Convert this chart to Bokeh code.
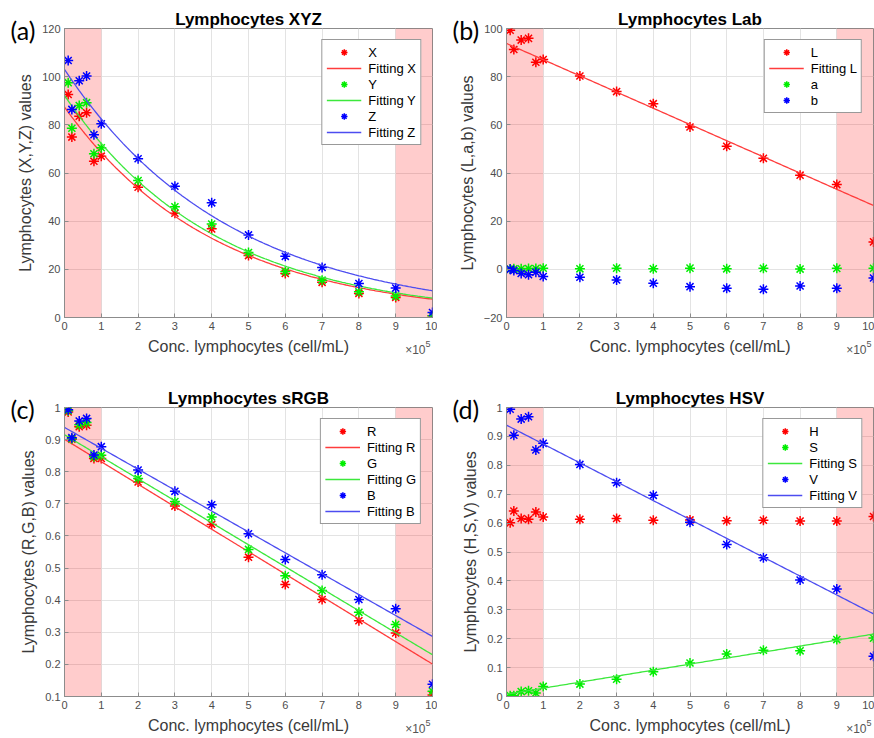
import numpy as np
from bokeh.plotting import figure
from bokeh.models import (Range1d, FixedTicker, Legend, LegendItem, BoxAnnotation,
                          Label, CustomJSTickFormatter, GridBox)
from bokeh.embed import file_html
from bokeh.resources import INLINE

# ---------------- data ----------------
conc = [0.1, 0.2, 0.4, 0.6, 0.8, 1, 2, 3, 4, 5, 6, 7, 8, 9, 10]   # x 10^5 cell/mL
x_ticks = [0, 1, 2, 3, 4, 5, 6, 7, 8, 9, 10]
shaded_ranges = [(0, 1), (9, 10)]

# (a) XYZ
xyz_X = [92.6, 74.9, 83.6, 85.0, 64.9, 67.0, 54.1, 43.3, 36.8, 25.7, 18.3, 14.6, 10.0, 8.3, 0.7]
xyz_Y = [97.5, 78.6, 88.0, 89.2, 68.0, 70.5, 56.9, 46.0, 38.8, 27.0, 19.1, 15.5, 10.7, 8.9, 0.7]
xyz_Z = [106.7, 86.4, 98.3, 100.3, 75.9, 80.4, 65.9, 54.5, 47.6, 34.3, 25.4, 20.8, 14.1, 12.2, 2.1]
fit_X = (87.4, 0.2442)    # a * exp(-b * x)
fit_Y = (92.2, 0.2440)
fit_Z = (103.0, 0.2228)
ticks_a = [0, 20, 40, 60, 80, 100, 120]

# (b) Lab
lab_L = [99.3, 91.3, 95.2, 95.9, 86.0, 87.1, 80.3, 73.8, 68.8, 59.1, 51.1, 46.1, 39.1, 35.2, 11.4]
lab_a = [0.1, 0.2, 0.2, 0.3, 0.3, 0.5, 0.2, 0.5, 0.2, 0.5, 0.2, 0.4, 0.1, 0.4, 0.4]
lab_b = [0.0, -0.5, -1.7, -2.2, -1.2, -3.0, -3.3, -4.4, -5.8, -7.2, -7.9, -8.3, -6.9, -7.9, -3.6]
fit_L = (93.8, -6.73)     # intercept, slope
ticks_b = [-20, 0, 20, 40, 60, 80, 100]

# (c) sRGB
rgb_R = [0.986, 0.901, 0.940, 0.945, 0.841, 0.841, 0.768, 0.693, 0.636, 0.534, 0.449, 0.402, 0.336, 0.298, 0.105]
rgb_G = [0.990, 0.903, 0.946, 0.953, 0.847, 0.851, 0.779, 0.707, 0.659, 0.558, 0.476, 0.430, 0.362, 0.324, 0.116]
rgb_B = [0.993, 0.906, 0.958, 0.966, 0.852, 0.878, 0.805, 0.739, 0.697, 0.607, 0.527, 0.479, 0.402, 0.373, 0.138]
fit_R = (0.901, -0.0700)
fit_G = (0.915, -0.0685)
fit_B = (0.938, -0.0651)
ticks_c = [0.1, 0.2, 0.3, 0.4, 0.5, 0.6, 0.7, 0.8, 0.9, 1.0]

# (d) HSV
hsv_H = [0.601, 0.642, 0.616, 0.613, 0.638, 0.621, 0.613, 0.616, 0.610, 0.611, 0.608, 0.610, 0.607, 0.607, 0.623]
hsv_S = [0.003, 0.003, 0.017, 0.020, 0.012, 0.035, 0.043, 0.060, 0.086, 0.116, 0.147, 0.160, 0.158, 0.197, 0.202]
hsv_V = [0.994, 0.904, 0.960, 0.968, 0.853, 0.876, 0.803, 0.740, 0.696, 0.603, 0.526, 0.480, 0.403, 0.372, 0.139]
fit_S = (0.008, 0.0208)
fit_V = (0.939, -0.0653)
ticks_d = [0, 0.1, 0.2, 0.3, 0.4, 0.5, 0.6, 0.7, 0.8, 0.9, 1.0]

titles = ["Lymphocytes XYZ", "Lymphocytes Lab", "Lymphocytes sRGB", "Lymphocytes HSV"]
tags = ["(a)", "(b)", "(c)", "(d)"]

# ---------------- style ----------------
FONT = "Liberation Sans"
RED, GREEN, BLUE = "#ff0000", "#00ee00", "#0000ff"
LRED, LGREEN, LBLUE = "#ff3c3c", "#3ce83c", "#4d4df0"
xfit = np.linspace(0, 10, 201)
PW, PH = 437, 369


def exp_curve(params):
    a, b = params
    return a * np.exp(-b * xfit)


def lin_curve(params):
    c, m = params
    return c + m * xfit


def make_panel(bl, br, bt, bb, yr, yticks, ylabel, frac_fmt):
    p = figure(width=PW, height=PH, output_backend="svg", toolbar_location=None,
               x_range=Range1d(0, 10), y_range=Range1d(*yr),
               min_border_left=bl, min_border_right=br, min_border_top=bt, min_border_bottom=bb)
    p.background_fill_color = "white"
    p.border_fill_color = "white"
    p.outline_line_color = "#8c8c8c"
    p.outline_line_width = 1
    for ax in (p.xaxis[0], p.yaxis[0]):
        ax.axis_line_color = "#8c8c8c"
        ax.major_tick_line_color = "#8c8c8c"
        ax.major_tick_in = 4
        ax.major_tick_out = 0
        ax.minor_tick_line_color = None
        ax.major_label_text_font = FONT
        ax.major_label_text_font_size = "11px"
        ax.major_label_text_color = "#4d4d4d"
        ax.axis_label_text_font = FONT
        ax.axis_label_text_font_size = "16px"
        ax.axis_label_text_font_style = "normal"
        ax.axis_label_text_color = "#3a3a3a"
        ax.major_label_standoff = 4
        ax.axis_label_standoff = 5
    p.xaxis[0].ticker = FixedTicker(ticks=x_ticks)
    p.yaxis[0].ticker = FixedTicker(ticks=yticks)
    if frac_fmt:
        p.yaxis[0].formatter = CustomJSTickFormatter(code="return String(Math.round(tick*10)/10);")
    p.xaxis[0].axis_label = "Conc. lymphocytes (cell/mL)"
    p.yaxis[0].axis_label = ylabel
    p.xgrid.ticker = FixedTicker(ticks=x_ticks)
    p.ygrid.ticker = FixedTicker(ticks=yticks)
    p.grid.grid_line_color = "#e3e3e3"
    p.grid.grid_line_width = 1
    for lo, hi in shaded_ranges:
        p.add_layout(BoxAnnotation(left=lo, right=hi, fill_color="#ff0000", fill_alpha=0.2,
                                   line_color=None, level="underlay"))
    return p


def pts(p, y, color):
    return p.scatter(conc, y, marker="asterisk", size=10, line_color=color, line_width=1.5)


def fitline(p, y, color):
    return p.line(xfit, y, line_color=color, line_width=1.3)


def add_legend(p, items):
    lg = Legend(items=[LegendItem(label=l, renderers=[r]) for l, r in items],
                location="top_right", margin=11, padding=4, spacing=0,
                label_height=16, glyph_height=16, glyph_width=35, label_standoff=7,
                label_text_font=FONT, label_text_font_size="13px", label_text_color="black",
                border_line_color="#333333", border_line_width=1,
                background_fill_color="white", background_fill_alpha=1)
    p.add_layout(lg)


# frame geometry of each panel (borders in px): left, right, top, bottom
geo = [(64, 5, 28, 52), (69, 1, 28, 52), (64, 5, 38, 42), (69, 1, 38, 42)]

# (a)
pa = make_panel(*geo[0], (0, 120), ticks_a, "Lymphocytes (X,Y,Z) values", False)
ra1 = pts(pa, xyz_X, RED); ra2 = fitline(pa, exp_curve(fit_X), LRED)
ra3 = pts(pa, xyz_Y, GREEN); ra4 = fitline(pa, exp_curve(fit_Y), LGREEN)
ra5 = pts(pa, xyz_Z, BLUE); ra6 = fitline(pa, exp_curve(fit_Z), LBLUE)
add_legend(pa, [("X", ra1), ("Fitting X", ra2), ("Y", ra3), ("Fitting Y", ra4),
                ("Z", ra5), ("Fitting Z", ra6)])

# (b)
pb = make_panel(*geo[1], (-20, 100), ticks_b, "Lymphocytes (L,a,b) values", False)
rb1 = pts(pb, lab_L, RED); rb2 = fitline(pb, lin_curve(fit_L), LRED)
rb3 = pts(pb, lab_a, GREEN)
rb4 = pts(pb, lab_b, BLUE)
add_legend(pb, [("L", rb1), ("Fitting L", rb2), ("a", rb3), ("b", rb4)])

# (c)
pc = make_panel(*geo[2], (0.1, 1.0), ticks_c, "Lymphocytes (R,G,B) values", True)
rc1 = pts(pc, rgb_R, RED); rc2 = fitline(pc, lin_curve(fit_R), LRED)
rc3 = pts(pc, rgb_G, GREEN); rc4 = fitline(pc, lin_curve(fit_G), LGREEN)
rc5 = pts(pc, rgb_B, BLUE); rc6 = fitline(pc, lin_curve(fit_B), LBLUE)
add_legend(pc, [("R", rc1), ("Fitting R", rc2), ("G", rc3), ("Fitting G", rc4),
                ("B", rc5), ("Fitting B", rc6)])

# (d)
pd_ = make_panel(*geo[3], (0, 1.0), ticks_d, "Lymphocytes (H,S,V) values", True)
rd1 = pts(pd_, hsv_H, RED)
rd2 = pts(pd_, hsv_S, GREEN); rd3 = fitline(pd_, lin_curve(fit_S), LGREEN)
rd4 = pts(pd_, hsv_V, BLUE); rd5 = fitline(pd_, lin_curve(fit_V), LBLUE)
add_legend(pd_, [("H", rd1), ("S", rd2), ("Fitting S", rd3), ("V", rd4), ("Fitting V", rd5)])

grid = GridBox(children=[(pa, 0, 0), (pb, 0, 1), (pc, 1, 0), (pd_, 1, 1)], spacing=0)

# ---------- transparent overlay (separate root) for titles, panel tags and x10^5 ----------
ov = figure(width=2 * PW, height=2 * PH, output_backend="svg", toolbar_location=None,
            x_range=Range1d(0, 2 * PW), y_range=Range1d(2 * PH, 0),
            x_axis_type=None, y_axis_type=None, min_border=0,
            styles={"position": "absolute", "left": "0px", "top": "0px",
                    "pointer-events": "none", "z-index": "5"})
ov.grid.visible = False
ov.outline_line_color = None
ov.background_fill_color = None
ov.border_fill_color = None

for i in range(4):
    ox = (i % 2) * PW
    oy = (i // 2) * PH
    bl, br, bt, bb = geo[i]
    fl, fr = ox + bl, ox + PW - br
    ft, fb = oy + bt, oy + PH - bb
    ov.add_layout(Label(x=(fl + fr) / 2, y=ft - 9, text=titles[i], text_align="center",
                        text_baseline="alphabetic", text_font=FONT, text_font_size="17px",
                        text_font_style="bold", text_color="black"))
    ov.add_layout(Label(x=fl - 54, y=ft + 1, text=tags[i], text_align="left",
                        text_baseline="alphabetic", text_font="Lato", text_font_size="25px",
                        text_color="black"))
    ov.add_layout(Label(x=fr - 7, y=fb + 32.5, text="\u00d710", text_align="right",
                        text_baseline="alphabetic", text_font=FONT, text_font_size="12px",
                        text_color="#555555"))
    ov.add_layout(Label(x=fr - 7, y=fb + 26.5, text="5", text_align="left",
                        text_baseline="alphabetic", text_font=FONT, text_font_size="9px",
                        text_color="#555555"))

open("out.html", "w").write(file_html([grid, ov], INLINE))
